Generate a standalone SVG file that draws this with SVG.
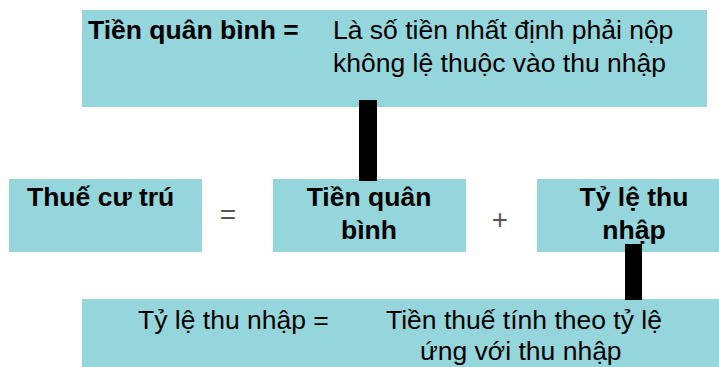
<svg xmlns="http://www.w3.org/2000/svg" width="719" height="367" viewBox="0 0 719 367">
<style>
.box{fill:#94D6DB}
.b{font-family:"Liberation Sans",Arial,sans-serif;font-weight:bold;font-size:26.5px;fill:#000}
.r{font-family:"Liberation Sans",Arial,sans-serif;font-size:26.5px;fill:#000}
.op{font-family:"Liberation Sans",Arial,sans-serif;font-size:28px;fill:#555}
.bar{fill:#000}
</style>
<rect width="719" height="367" fill="#fff"/>
<g id="def-tqb">
<rect class="box" x="82" y="10" width="625" height="97"/>
<text class="b" x="88" y="39">Tiền quân bình =</text>
<text class="r" x="333" y="39">Là số tiền nhất định phải nộp</text>
<text class="r" x="333" y="72">không lệ thuộc vào thu nhập</text>
</g>
<g id="thue-cu-tru">
<rect class="box" x="9" y="179" width="193" height="73"/>
<text class="b" x="27" y="206">Thuế cư trú</text>
</g>
<g id="tien-quan-binh">
<rect class="box" x="273" y="179" width="193" height="73"/>
<text class="b" x="369" y="206" text-anchor="middle">Tiền quân</text>
<text class="b" x="369" y="239" text-anchor="middle">bình</text>
</g>
<g id="ty-le-thu-nhap">
<rect class="box" x="537" y="179" width="182" height="73"/>
<text class="b" x="634" y="206" text-anchor="middle">Tỷ lệ thu</text>
<text class="b" x="634" y="239" text-anchor="middle">nhập</text>
</g>
<g id="def-tltn">
<rect class="box" x="82" y="299" width="637" height="68"/>
<text class="r" x="138" y="329">Tỷ lệ thu nhập =</text>
<text class="r" x="386" y="329">Tiền thuế tính theo tỷ lệ</text>
<text class="r" x="420" y="360">ứng với thu nhập</text>
</g>
<g id="operators">
<text class="op" x="228" y="224" text-anchor="middle">=</text>
<text class="op" x="500" y="229" text-anchor="middle">+</text>
</g>
<g id="connectors">
<rect class="bar" x="359" y="100" width="18" height="81"/>
<rect class="bar" x="625" y="244" width="17" height="56"/>
</g>
</svg>
